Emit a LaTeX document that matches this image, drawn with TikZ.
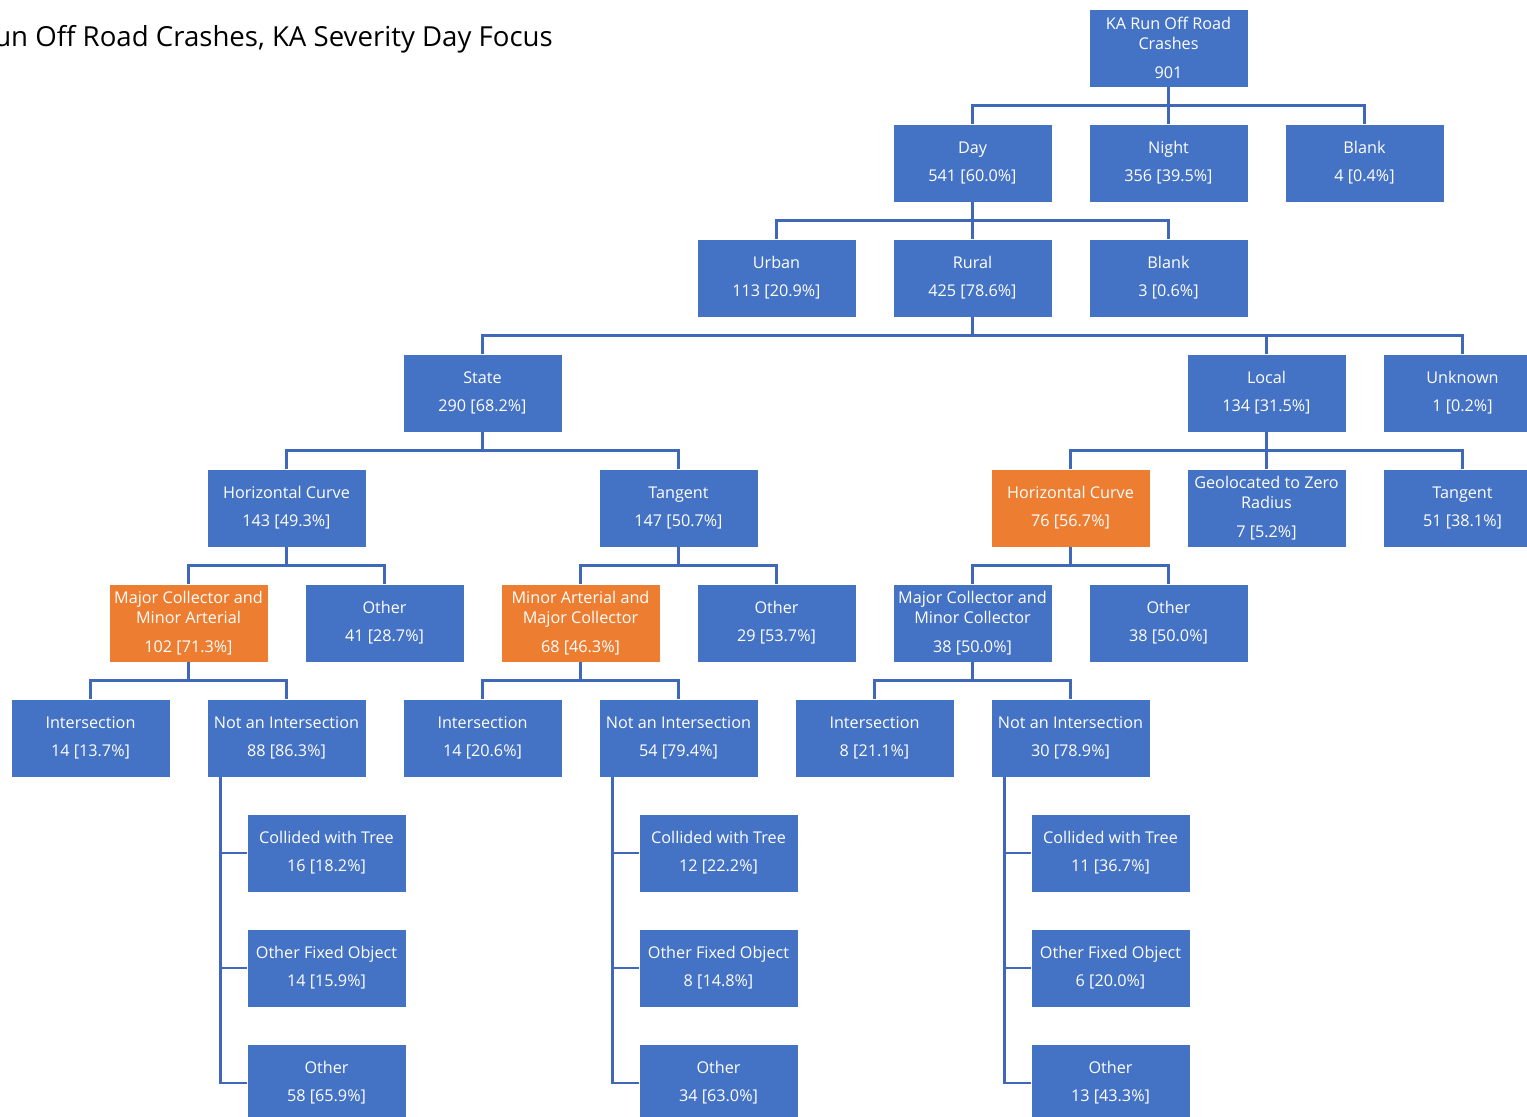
\documentclass[tikz,border=0pt]{standalone}
\usepackage{fontspec}
\setmainfont{Open Sans}
\definecolor{boxblue}{HTML}{4472C4}
\definecolor{boxorange}{HTML}{ED7D31}
\definecolor{lineblue}{HTML}{3F69B8}
\begin{document}
\begin{tikzpicture}[x=1pt,y=-1pt,
        box/.style={
            % The shape:
            rectangle,
            % The size:
            minimum width=159pt,
            minimum height=78pt,
            inner sep=0pt,
            % The border
            draw=white,
            line width=0.6pt,
            % The filling
            fill=boxblue,
            % Font
            text=white,
            align=center,
            font=\fontsize{16.2}{20}\selectfont
        },
        hot/.style={box, fill=boxorange},
        link/.style={draw=lineblue, line width=2.6pt}]

        \useasboundingbox (0,0) rectangle (1527,1117);

        \node [anchor=base east, inner sep=0pt, font=\fontsize{27.6}{34}\selectfont] (title) at (553,46) {Run Off Road Crashes, KA Severity Day Focus};

        \node [box] (root) at (1168.5,48) {KA Run Off Road\\Crashes\\[9pt]901};

        \node [box] (day) at (972.5,163) {Day\\[8pt]541 [60.0\%]};
        \node [box] (night) at (1168.5,163) {Night\\[8pt]356 [39.5\%]};
        \node [box] (blankA) at (1364.5,163) {Blank\\[8pt]4 [0.4\%]};

        \node [box] (urban) at (776.5,278) {Urban\\[8pt]113 [20.9\%]};
        \node [box] (rural) at (972.5,278) {Rural\\[8pt]425 [78.6\%]};
        \node [box] (blankB) at (1168.5,278) {Blank\\[8pt]3 [0.6\%]};

        \node [box] (state) at (482.5,393) {State\\[8pt]290 [68.2\%]};
        \node [box] (local) at (1266.5,393) {Local\\[8pt]134 [31.5\%]};
        \node [box] (unknown) at (1462.5,393) {Unknown\\[8pt]1 [0.2\%]};

        \node [box] (curveS) at (286.5,508) {Horizontal Curve\\[8pt]143 [49.3\%]};
        \node [box] (tangentS) at (678.5,508) {Tangent\\[8pt]147 [50.7\%]};
        \node [hot] (curveL) at (1070.5,508) {Horizontal Curve\\[8pt]76 [56.7\%]};
        \node [box] (geoL) at (1266.5,508) {Geolocated to Zero\\Radius\\[9pt]7 [5.2\%]};
        \node [box] (tangentL) at (1462.5,508) {Tangent\\[8pt]51 [38.1\%]};

        \node [hot] (classA) at (188.5,623) {Major Collector and\\Minor Arterial\\[9pt]102 [71.3\%]};
        \node [box] (otherA) at (384.5,623) {Other\\[8pt]41 [28.7\%]};
        \node [hot] (classB) at (580.5,623) {Minor Arterial and\\Major Collector\\[9pt]68 [46.3\%]};
        \node [box] (otherB) at (776.5,623) {Other\\[8pt]29 [53.7\%]};
        \node [box] (classC) at (972.5,623) {Major Collector and\\Minor Collector\\[9pt]38 [50.0\%]};
        \node [box] (otherC) at (1168.5,623) {Other\\[8pt]38 [50.0\%]};

        % intersection split and the objects hit
        \foreach \i/\x/\ia/\na/\ta/\fa/\oa in {A/90.5/14 [13.7\%]/88 [86.3\%]/16 [18.2\%]/14 [15.9\%]/58 [65.9\%],
                                               B/482.5/14 [20.6\%]/54 [79.4\%]/12 [22.2\%]/8 [14.8\%]/34 [63.0\%],
                                               C/874.5/8 [21.1\%]/30 [78.9\%]/11 [36.7\%]/6 [20.0\%]/13 [43.3\%]}
        {
            \node [box] (inter\i) at (\x,738) {Intersection\\[8pt]\ia};
            \node [box] (notinter\i) at (\x+196,738) {Not an Intersection\\[8pt]\na};
            \node [box] (tree\i) at (\x+236,853) {Collided with Tree\\[8pt]\ta};
            \node [box] (fixed\i) at (\x+236,968) {Other Fixed Object\\[8pt]\fa};
            \node [box] (rest\i) at (\x+236,1083) {Other\\[8pt]\oa};
        }

        \foreach \p/\c in {root/day, root/night, root/blankA,
                           day/urban, day/rural, day/blankB,
                           rural/state, rural/local, rural/unknown,
                           state/curveS, state/tangentS,
                           local/curveL, local/geoL, local/tangentL,
                           curveS/classA, curveS/otherA,
                           tangentS/classB, tangentS/otherB,
                           curveL/classC, curveL/otherC,
                           classA/interA, classA/notinterA,
                           classB/interB, classB/notinterB,
                           classC/interC, classC/notinterC}
        {
            \draw [link] (\p.south) -- ++(0,18) -| (\c.north);
        }

        \foreach \i in {A,B,C}
            \foreach \l in {tree,fixed,rest}
                \draw [link] ([xshift=14pt]notinter\i.south west) |- (\l\i.west);

    \end{tikzpicture}
\end{document}
